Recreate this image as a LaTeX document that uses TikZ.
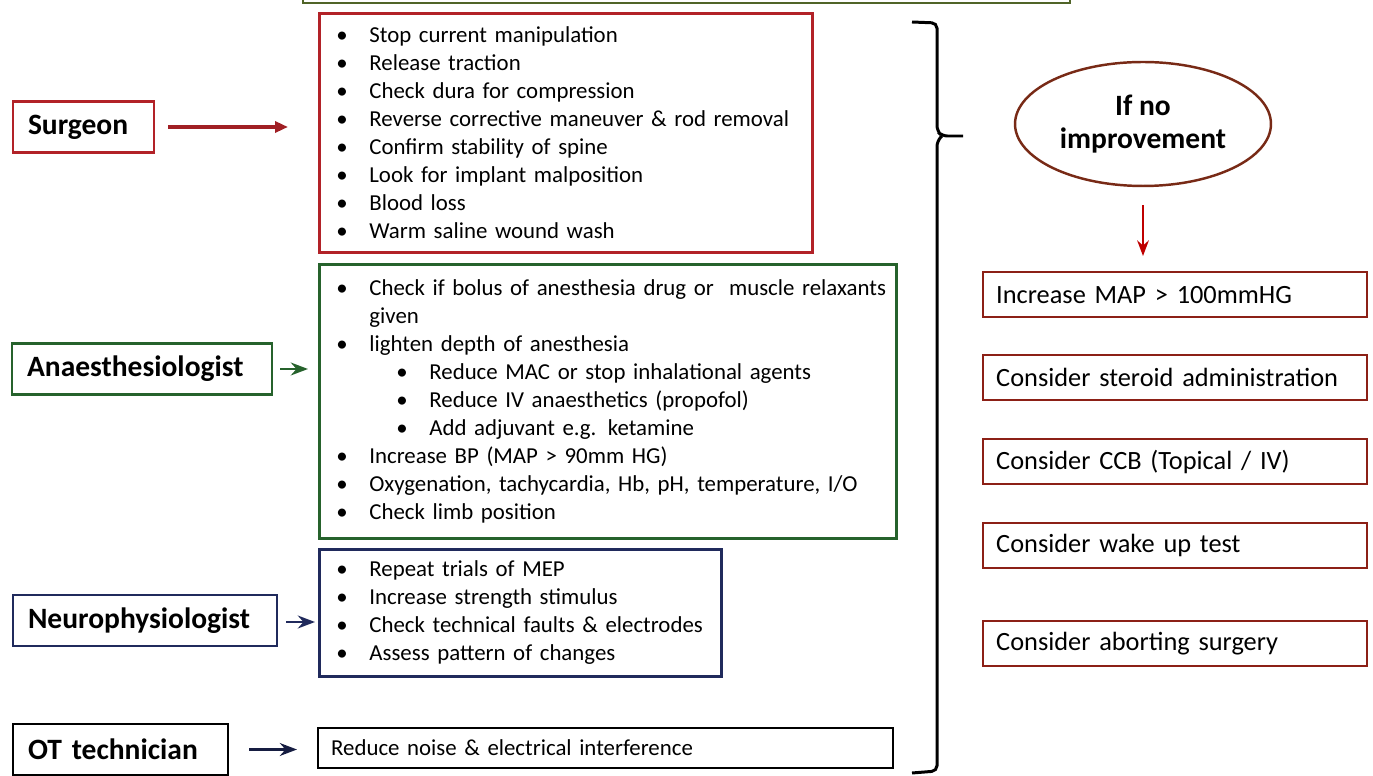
\documentclass[tikz,border=0pt]{standalone}
\usepackage{fontspec}
\setmainfont{Carlito}
\usepackage{tikz}
\usetikzlibrary{arrows.meta, positioning, calc, shapes.geometric}

\definecolor{srgred}{RGB}{178,34,40}
\definecolor{anagreen}{RGB}{38,98,44}
\definecolor{neunavy}{RGB}{32,42,92}
\definecolor{actred}{RGB}{140,32,22}
\definecolor{ellred}{RGB}{120,42,22}
\definecolor{topgreen}{RGB}{80,100,40}

\newcommand{\bitem}[1]{\makebox[0.66cm][l]{\textbullet}\mbox{#1}}
\newcommand{\sbitem}[1]{\hspace*{1.2cm}\makebox[0.66cm][l]{\textbullet}\mbox{#1}}

\begin{document}
\begin{tikzpicture}[
  x=0.02cm, y=-0.02cm,
  >=Stealth,
  role/.style={
    draw, line width=1.6pt, align=left, inner xsep=0.3cm,
    inner ysep=0pt, minimum height=1.02cm,
    font=\fontsize{16.8}{18}\selectfont\bfseries
  },
  todo/.style={
    draw, line width=1.6pt, anchor=north west, align=left,
    inner xsep=0.34cm, inner ysep=0pt,
    font=\fontsize{13}{15.93}\selectfont
  },
  action/.style={
    draw=actred, line width=1.4pt, anchor=north west, align=left,
    inner xsep=0.26cm, inner ysep=0pt, minimum height=0.9cm,
    text width=7.16cm, font=\fontsize{15}{16}\selectfont
  },
  link/.style={->, line width=1.5pt},
]

\useasboundingbox (0,0) rectangle (1373,776);

%%% Edge of the title box, cut off at the top
\draw[topgreen, line width=1.6pt] (303,-2) -- (303,3) -- (1070,3) -- (1070,-2);

%%% Team members (left column)
\node[role, draw=srgred, text width=2.22cm]   (srg) at (83.5,127)  {Surgeon};
\node[role, draw=anagreen, text width=4.6cm]  (ana) at (142,369)   {Anaesthesiologist};
\node[role, draw=neunavy, text width=4.68cm]  (neu) at (145,620.5) {Neurophysiologist};
\node[role, draw=black, text width=3.7cm]     (ot)  at (120.5,749.5) {OT technician};

%%% What each of them checks
\node[todo, draw=srgred, text width=9.18cm, minimum height=4.78cm] (srglist) at (318,12) {%
  \bitem{Stop current manipulation}\\
  \bitem{Release traction}\\
  \bitem{Check dura for compression}\\
  \bitem{Reverse corrective maneuver \& rod removal}\\
  \bitem{Confirm stability of spine}\\
  \bitem{Look for implant malposition}\\
  \bitem{Blood loss}\\
  \bitem{Warm saline wound wash}};

\node[todo, draw=anagreen, text width=10.86cm, minimum height=5.48cm] (analist) at (318,263) {%
  \bitem{Check if bolus of anesthesia drug or\ \ muscle relaxants}\\
  \hspace*{0.66cm}given\\
  \bitem{lighten depth of anesthesia}\\
  \sbitem{Reduce MAC or stop inhalational agents}\\
  \sbitem{Reduce IV anaesthetics (propofol)}\\
  \sbitem{Add adjuvant e.g. ketamine}\\
  \bitem{Increase BP (MAP > 90mm HG)}\\
  \bitem{Oxygenation, tachycardia, Hb, pH, temperature, I/O}\\
  \bitem{Check limb position}};

\node[todo, draw=neunavy, text width=7.36cm, minimum height=2.54cm] (neulist) at (318,548) {%
  \bitem{Repeat trials of MEP}\\
  \bitem{Increase strength stimulus}\\
  \bitem{Check technical faults \& electrodes}\\
  \bitem{Assess pattern of changes}};

\node[todo, draw=black, line width=1.3pt, inner xsep=0.26cm, text width=10.98cm,
      minimum height=0.8cm] (otlist) at (317,727)
  {Reduce noise \& electrical interference};

%%% Arrows from members to their lists
\draw[link, srgred!90!black, line width=1.8pt,
      -{Triangle[length=0.26cm, width=0.22cm]},
      shorten <=0.26cm, shorten >=0.6cm]
  (srg.east) -- (srg.east -| srglist.west);
\draw[link, anagreen, shorten <=0.14cm, shorten >=0.2cm]
  (ana.east) -- (ana.east -| analist.west);
\draw[link, neunavy, shorten <=0.16cm, shorten >=0.06cm]
  ([yshift=-0.03cm]neu.east) -- ([yshift=-0.03cm]neu.east -| neulist.west);
\draw[link, neunavy!70!black, shorten <=0.4cm, shorten >=0.4cm]
  (ot.east) -- (ot.east -| otlist.west);

%%% Brace gathering all four lists
\draw[line width=1.7pt, rounded corners=3pt]
  (912,22) -- (937,23) -- (937,131) -- (942,136) -- (963,136);
\draw[line width=1.7pt, rounded corners=3pt]
  (942,136) -- (937,141) -- (937,771) -- (912,773);

%%% Escalation (right column)
\node[ellipse, draw=ellred, line width=1.4pt, minimum width=5.12cm,
      minimum height=2.48cm, align=center, inner sep=0pt,
      font=\fontsize{16.8}{19}\selectfont\bfseries] (cond) at (1143,124)
  {If no\\improvement};

\node[action] (r1) at (982,271) {Increase MAP > 100mmHG};
\node[action] (r2) at (982,354) {Consider steroid administration};
\node[action] (r3) at (982,438) {Consider CCB (Topical / IV)};
\node[action] (r4) at (982,522) {Consider wake up test};
\node[action] (r5) at (982,620) {Consider aborting surgery};

\draw[->, line width=1.3pt, red!75!black, shorten <=0.36cm, shorten >=0.3cm]
  (cond.south) -- (cond.south |- r1.north);

\end{tikzpicture}
\end{document}
